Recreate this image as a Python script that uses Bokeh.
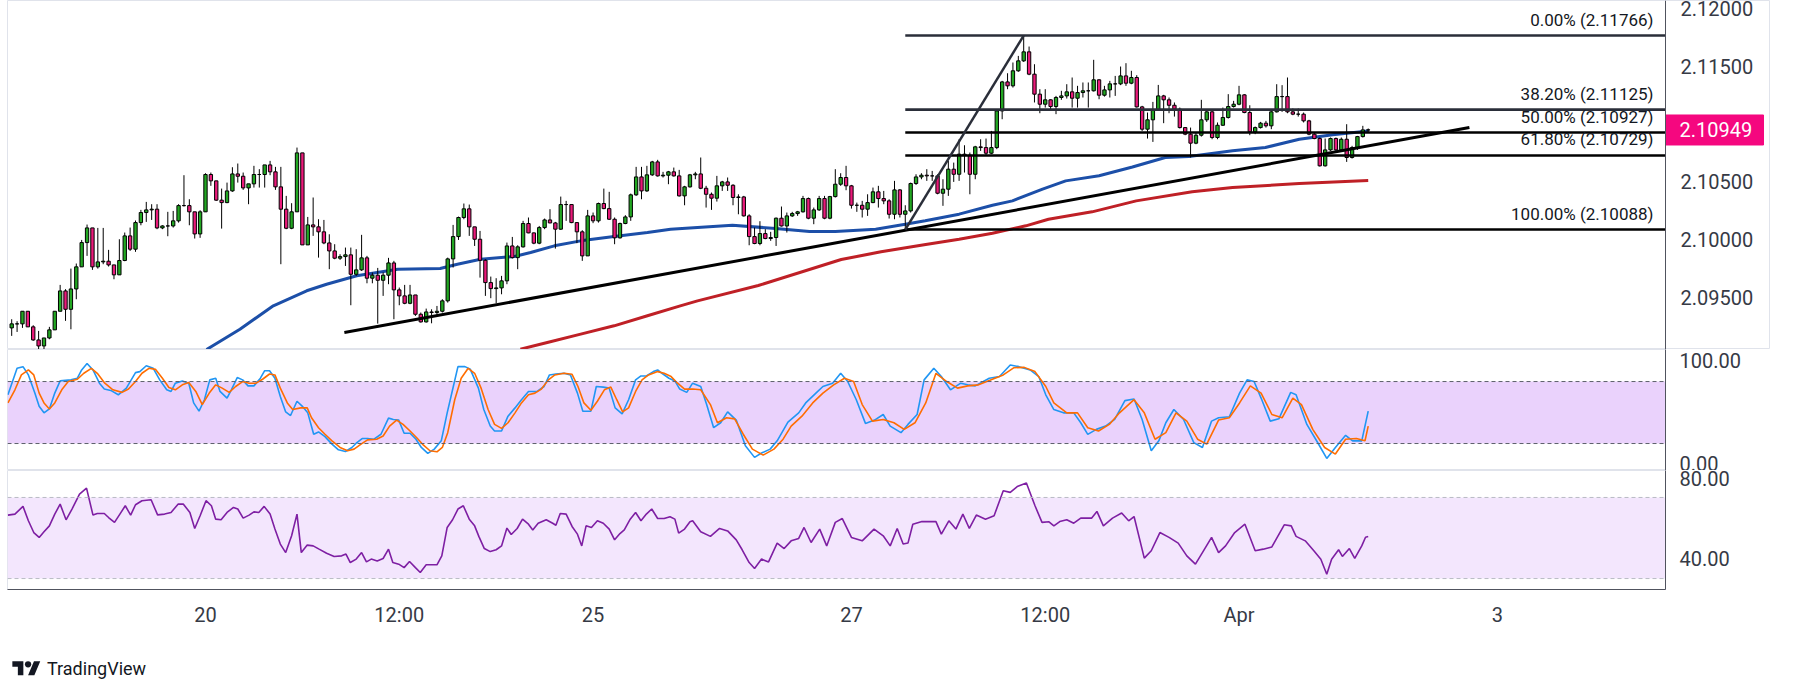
from bokeh.plotting import figure
from bokeh.layouts import column
from bokeh.models import (Range1d, FixedTicker, NumeralTickFormatter, Span,
                          BoxAnnotation, ColumnDataSource, Div)
from bokeh.embed import file_html
from bokeh.resources import INLINE
from bokeh.core.properties import value

# ---------------- data (hourly candles, index 0..252) ----------------
first_open = 2.09237
close = [
    2.09272, 2.09272, 2.09381, 2.09246, 2.09133, 2.09081, 2.09150, 2.09220, 2.09381, 2.09557,
    2.09398, 2.09574, 2.09765, 2.09975, 2.10102, 2.09765, 2.09808, 2.09814, 2.09782, 2.09696,
    2.09820, 2.10033, 2.09918, 2.10148, 2.10235, 2.10258, 2.10264, 2.10102, 2.10119, 2.10119,
    2.10163, 2.10295, 2.10295, 2.10241, 2.10050, 2.10241, 2.10564, 2.10509, 2.10342, 2.10321,
    2.10422, 2.10569, 2.10549, 2.10448, 2.10483, 2.10564, 2.10564, 2.10647, 2.10587, 2.10457,
    2.10264, 2.10099, 2.10241, 2.10751, 2.09955, 2.10128, 2.10111, 2.10068, 2.09972, 2.09903,
    2.09840, 2.09854, 2.09869, 2.09701, 2.09739, 2.09843, 2.09667, 2.09693, 2.09649, 2.09693,
    2.09799, 2.09566, 2.09514, 2.09450, 2.09522, 2.09355, 2.09289, 2.09375, 2.09370, 2.09381,
    2.09471, 2.09834, 2.10027, 2.10192, 2.10267, 2.10111, 2.10004, 2.09822, 2.09629, 2.09577,
    2.09583, 2.09644, 2.09946, 2.09845, 2.09938, 2.10140, 2.10059, 2.09970, 2.10105, 2.10171,
    2.10145, 2.10091, 2.10304, 2.10304, 2.10148, 2.10068, 2.09860, 2.10206, 2.10163, 2.10313,
    2.10269, 2.10177, 2.10016, 2.10140, 2.10197, 2.10388, 2.10543, 2.10422, 2.10561, 2.10673,
    2.10552, 2.10558, 2.10587, 2.10552, 2.10379, 2.10457, 2.10561, 2.10569, 2.10445, 2.10393,
    2.10359, 2.10466, 2.10500, 2.10471, 2.10365, 2.10370, 2.10206, 2.10027, 2.09967, 2.10053,
    2.10010, 2.10019, 2.10186, 2.10119, 2.10206, 2.10226, 2.10241, 2.10356, 2.10186, 2.10258,
    2.10356, 2.10186, 2.10373, 2.10480, 2.10538, 2.10466, 2.10298, 2.10298, 2.10264, 2.10321,
    2.10414, 2.10356, 2.10336, 2.10220, 2.10431, 2.10220, 2.10249, 2.10486, 2.10543, 2.10558,
    2.10552, 2.10552, 2.10402, 2.10437, 2.10610, 2.10566, 2.10740, 2.10731, 2.10566, 2.10803,
    2.10797, 2.10748, 2.10797, 2.11114, 2.11365, 2.11331, 2.11461, 2.11547, 2.11625, 2.11432,
    2.11259, 2.11172, 2.11210, 2.11152, 2.11230, 2.11244, 2.11279, 2.11224, 2.11273, 2.11288,
    2.11288, 2.11383, 2.11250, 2.11296, 2.11348, 2.11348, 2.11417, 2.11354, 2.11403, 2.11149,
    2.10956, 2.11037, 2.11120, 2.11244, 2.11210, 2.11163, 2.11129, 2.10970, 2.10913, 2.10835,
    2.10904, 2.11037, 2.11106, 2.10884, 2.10990, 2.11057, 2.11152, 2.11172, 2.11253, 2.11100,
    2.10933, 2.10970, 2.11008, 2.10985, 2.11106, 2.11238, 2.11238, 2.11106, 2.11086, 2.11086,
    2.11028, 2.10913, 2.10875, 2.10639, 2.10777, 2.10875, 2.10777, 2.10869, 2.10711, 2.10797,
    2.10892, 2.10950, 2.10949,
]
high = [
    2.09312, 2.09295, 2.09381, 2.09381, 2.09260, 2.09211, 2.09150, 2.09246, 2.09381, 2.09609,
    2.09572, 2.09750, 2.09794, 2.09998, 2.10131, 2.10102, 2.10102, 2.10102, 2.09912, 2.09782,
    2.10004, 2.10062, 2.10105, 2.10166, 2.10258, 2.10327, 2.10307, 2.10307, 2.10125, 2.10241,
    2.10249, 2.10307, 2.10558, 2.10350, 2.10241, 2.10255, 2.10575, 2.10581, 2.10509, 2.10442,
    2.10494, 2.10627, 2.10659, 2.10581, 2.10483, 2.10639, 2.10610, 2.10647, 2.10682, 2.10630,
    2.10630, 2.10379, 2.10316, 2.10797, 2.10751, 2.10197, 2.10365, 2.10177, 2.10171, 2.10047,
    2.09961, 2.09874, 2.09932, 2.09932, 2.09918, 2.10042, 2.09860, 2.09716, 2.09756, 2.09716,
    2.09843, 2.09817, 2.09586, 2.09609, 2.09609, 2.09522, 2.09370, 2.09404, 2.09398, 2.09427,
    2.09485, 2.09845, 2.10128, 2.10200, 2.10313, 2.10304, 2.10111, 2.10076, 2.09831, 2.09681,
    2.09667, 2.09687, 2.09975, 2.10024, 2.09952, 2.10163, 2.10192, 2.10062, 2.10119, 2.10183,
    2.10264, 2.10154, 2.10373, 2.10336, 2.10304, 2.10148, 2.10082, 2.10258, 2.10235, 2.10321,
    2.10442, 2.10414, 2.10192, 2.10148, 2.10212, 2.10399, 2.10630, 2.10630, 2.10639, 2.10682,
    2.10691, 2.10587, 2.10595, 2.10624, 2.10604, 2.10466, 2.10569, 2.10587, 2.10711, 2.10466,
    2.10408, 2.10552, 2.10509, 2.10538, 2.10480, 2.10393, 2.10379, 2.10220, 2.10105, 2.10160,
    2.10091, 2.10068, 2.10192, 2.10287, 2.10235, 2.10241, 2.10249, 2.10379, 2.10365, 2.10278,
    2.10379, 2.10379, 2.10379, 2.10610, 2.10575, 2.10639, 2.10474, 2.10321, 2.10336, 2.10393,
    2.10451, 2.10466, 2.10422, 2.10350, 2.10509, 2.10437, 2.10298, 2.10494, 2.10566, 2.10575,
    2.10610, 2.10595, 2.10566, 2.10523, 2.10682, 2.10667, 2.10869, 2.10817, 2.10754, 2.10812,
    2.10869, 2.10875, 2.10941, 2.11129, 2.11374, 2.11440, 2.11533, 2.11590, 2.11766, 2.11671,
    2.11518, 2.11302, 2.11302, 2.11215, 2.11244, 2.11288, 2.11345, 2.11403, 2.11331, 2.11360,
    2.11360, 2.11556, 2.11388, 2.11331, 2.11374, 2.11417, 2.11498, 2.11527, 2.11461, 2.11423,
    2.11158, 2.11100, 2.11192, 2.11339, 2.11253, 2.11230, 2.11187, 2.11143, 2.10970, 2.10970,
    2.10927, 2.11210, 2.11114, 2.11114, 2.11014, 2.11143, 2.11259, 2.11201, 2.11331, 2.11259,
    2.11163, 2.10979, 2.11019, 2.11028, 2.11114, 2.11345, 2.11337, 2.11403, 2.11135, 2.11135,
    2.11100, 2.11037, 2.10927, 2.10884, 2.10875, 2.10884, 2.10884, 2.10884, 2.10999, 2.10812,
    2.10898, 2.10985, 2.10962,
]
low = [
    2.09168, 2.09202, 2.09237, 2.09246, 2.09125, 2.09052, 2.09052, 2.09139, 2.09220, 2.09381,
    2.09298, 2.09225, 2.09485, 2.09765, 2.09860, 2.09739, 2.09750, 2.09788, 2.09768, 2.09658,
    2.09696, 2.09814, 2.09903, 2.09895, 2.10125, 2.10154, 2.10171, 2.10091, 2.10091, 2.10030,
    2.10105, 2.10148, 2.10287, 2.10125, 2.10010, 2.10016, 2.10241, 2.10466, 2.10336, 2.10096,
    2.10316, 2.10414, 2.10494, 2.10431, 2.10307, 2.10451, 2.10451, 2.10451, 2.10558, 2.10431,
    2.09788, 2.10091, 2.10091, 2.10241, 2.09955, 2.09955, 2.10033, 2.09845, 2.09961, 2.09745,
    2.09831, 2.09825, 2.09773, 2.09433, 2.09687, 2.09730, 2.09623, 2.09623, 2.09274, 2.09514,
    2.09615, 2.09312, 2.09433, 2.09442, 2.09442, 2.09341, 2.09283, 2.09283, 2.09277, 2.09341,
    2.09370, 2.09456, 2.09759, 2.09998, 2.10177, 2.10033, 2.09946, 2.09672, 2.09514, 2.09494,
    2.09450, 2.09528, 2.09615, 2.09837, 2.09745, 2.09932, 2.10056, 2.09961, 2.09961, 2.10091,
    2.10143, 2.09923, 2.10085, 2.10163, 2.10143, 2.09970, 2.09817, 2.09860, 2.10143, 2.10148,
    2.10264, 2.10171, 2.09961, 2.10010, 2.10134, 2.10163, 2.10379, 2.10350, 2.10414, 2.10552,
    2.10546, 2.10538, 2.10480, 2.10546, 2.10373, 2.10298, 2.10451, 2.10523, 2.10437, 2.10278,
    2.10258, 2.10330, 2.10422, 2.10422, 2.10298, 2.10220, 2.10200, 2.09952, 2.09961, 2.09952,
    2.10004, 2.09990, 2.09946, 2.10114, 2.10062, 2.10197, 2.10206, 2.10235, 2.10177, 2.10134,
    2.10249, 2.10177, 2.10177, 2.10365, 2.10466, 2.10428, 2.10269, 2.10241, 2.10192, 2.10206,
    2.10316, 2.10278, 2.10307, 2.10183, 2.10177, 2.10192, 2.10088, 2.10235, 2.10474, 2.10523,
    2.10509, 2.10509, 2.10393, 2.10293, 2.10379, 2.10500, 2.10509, 2.10581, 2.10393, 2.10523,
    2.10768, 2.10725, 2.10740, 2.10783, 2.11042, 2.11302, 2.11316, 2.11452, 2.11538, 2.11423,
    2.11187, 2.11094, 2.11143, 2.11114, 2.11086, 2.11210, 2.11221, 2.11143, 2.11143, 2.11230,
    2.11143, 2.11282, 2.11215, 2.11238, 2.11230, 2.11244, 2.11337, 2.11331, 2.11345, 2.11143,
    2.10941, 2.10875, 2.10846, 2.11114, 2.11008, 2.11094, 2.11065, 2.10962, 2.10904, 2.10711,
    2.10826, 2.10892, 2.11019, 2.10869, 2.10869, 2.10985, 2.11048, 2.11143, 2.11163, 2.11094,
    2.10904, 2.10913, 2.10962, 2.10970, 2.10956, 2.11100, 2.11106, 2.11094, 2.11077, 2.11065,
    2.11014, 2.10904, 2.10869, 2.10633, 2.10633, 2.10768, 2.10768, 2.10768, 2.10673, 2.10702,
    2.10777, 2.10884, 2.10927,
]

# moving averages (at sample bars)
ema_blue_x = [36.2, 42.4, 48.6, 54.8, 58.5, 64.1, 71.7, 79.6, 82.8, 87.1, 93.4, 96.4, 100.8,
              105.7, 111.9, 118.1, 122.4, 127.4, 133.9, 141.9, 148.2, 153.0, 160.5, 166.0,
              169.7, 176.0, 182.2, 185.9, 191.5, 195.8, 202.0, 208.2, 214.3, 218.7, 226.8,
              232.9, 239.2, 245.4, 252.0]
ema_blue_y = [2.09050, 2.09226, 2.09428, 2.09558, 2.09615, 2.09688, 2.09745, 2.09751, 2.09788,
              2.09831, 2.09855, 2.09889, 2.09947, 2.09990, 2.10028, 2.10062, 2.10091, 2.10106,
              2.10125, 2.10097, 2.10071, 2.10071, 2.10091, 2.10134, 2.10164, 2.10221, 2.10298,
              2.10336, 2.10437, 2.10509, 2.10553, 2.10629, 2.10711, 2.10720, 2.10769, 2.10798,
              2.10869, 2.10907, 2.10940]
ema_red_x = [94.5, 99.5, 105.7, 111.9, 118.1, 124.2, 127.4, 138.7, 154.1, 161.5, 169.8, 176.0,
             182.2, 188.4, 192.6, 200.7, 208.9, 219.3, 226.8, 239.2, 252.0]
ema_red_y = [2.09053, 2.09111, 2.09183, 2.09255, 2.09342, 2.09428, 2.09471, 2.09604, 2.09829,
             2.09895, 2.09959, 2.10004, 2.10056, 2.10120, 2.10177, 2.10241, 2.10336, 2.10414,
             2.10452, 2.10486, 2.10512]

# drawings
trend_x = [61.8, 270.8]
trend_y = [2.09198, 2.10971]
fib_levels = [2.11766, 2.11125, 2.10927, 2.10729, 2.10088]
fib_pct = ["0.00%", "38.20%", "50.00%", "61.80%", "100.00%"]
fib_colors = ["#2a2e39", "#2a2e39", "#000000", "#000000", "#000000"]
fib_start = 166
fib_end = 188

# stochastic %K / %D
stoch_k_x = [-0.7, 1.0, 2.1, 3.1, 4.3, 5.1, 6.0, 7.0, 8.0, 9.0,
             11.0, 12.2, 13.0, 14.0, 15.1, 16.3, 17.2, 18.4, 19.8, 21.3,
             23.0, 23.8, 25.0, 26.3, 27.5, 28.8, 29.6, 30.4, 31.7, 32.9,
             33.8, 34.8, 35.8, 36.8, 37.9, 38.7, 40.0, 40.8, 41.9, 42.9,
             43.9, 45.0, 46.2, 47.0, 47.9, 48.9, 49.9, 50.9, 51.8, 53.0,
             54.1, 55.0, 56.1, 57.0, 58.2, 59.5, 60.7, 62.0, 63.2, 64.0,
             65.1, 66.1, 67.3, 68.6, 70.0, 70.9, 71.9, 72.9, 74.0, 75.1,
             76.1, 77.3, 78.5, 79.8, 80.9, 81.9, 82.9, 84.2, 85.2, 86.7,
             87.7, 88.9, 89.7, 91.0, 92.2, 93.5, 94.7, 96.0, 97.6, 98.9,
             99.9, 101.1, 102.6, 103.8, 105.1, 106.1, 107.6, 108.6, 109.9, 111.0,
             112.1, 113.4, 114.6, 115.9, 116.9, 117.9, 119.2, 120.0, 120.8, 122.1,
             123.2, 124.1, 125.4, 126.5, 128.0, 129.1, 130.4, 131.7, 133.0, 134.6,
             136.3, 138.0, 139.3, 140.9, 142.2, 144.2, 146.2, 147.5, 149.4, 150.7,
             152.5, 154.0, 155.3, 156.9, 158.6, 160.3, 161.9, 163.2, 165.2, 166.5,
             168.2, 169.5, 171.3, 172.7, 174.4, 176.3, 177.6, 179.0, 180.5, 181.6,
             183.5, 185.5, 187.1, 189.2, 190.8, 192.1, 193.6, 195.4, 197.3, 198.6,
             199.9, 201.5, 203.2, 204.9, 206.8, 208.5, 210.0, 211.7, 213.1, 214.4,
             215.9, 217.7, 219.6, 221.2, 222.9, 224.2, 226.2, 228.1, 229.5, 230.8,
             232.1, 233.8, 235.4, 237.6, 238.6, 240.6, 242.6, 244.3, 245.9, 247.8,
             249.1, 250.8, 252.0]
stoch_k = [67.2, 92.8, 94.4, 86.4, 68.8, 56.1, 49.7, 53.5, 68.8, 80.6,
           81.6, 83.2, 91.2, 97.5, 91.2, 78.4, 72.7, 71.4, 67.2, 73.6,
           88.6, 89.6, 95.3, 92.8, 81.6, 72.0, 70.4, 78.4, 80.6, 78.4,
           59.3, 51.3, 62.4, 81.6, 83.2, 70.4, 64.0, 72.0, 83.8, 81.6,
           75.8, 75.8, 83.2, 90.5, 90.5, 83.2, 65.6, 50.6, 47.1, 60.9,
           55.4, 49.7, 29.0, 31.2, 26.7, 19.4, 13.9, 12.3, 16.2, 20.3,
           24.8, 24.8, 24.2, 29.0, 44.6, 43.3, 42.7, 29.9, 29.9, 24.2,
           16.2, 10.4, 14.6, 22.6, 49.7, 72.0, 94.4, 94.4, 91.8, 73.6,
           52.9, 36.9, 32.1, 32.1, 46.5, 54.5, 62.4, 70.4, 70.4, 75.2,
           86.4, 87.3, 88.0, 86.4, 68.8, 51.3, 51.3, 75.2, 74.6, 73.6,
           54.5, 48.7, 62.4, 81.6, 85.4, 85.4, 89.6, 91.2, 88.0, 83.2,
           80.6, 72.7, 69.5, 78.4, 75.2, 57.7, 35.3, 40.1, 50.6, 42.7,
           17.8, 6.6, 10.8, 14.6, 22.6, 40.8, 49.7, 59.3, 68.8, 75.2,
           78.4, 88.0, 80.0, 62.4, 39.5, 42.7, 48.1, 36.9, 30.5, 38.5,
           48.1, 81.6, 92.8, 84.8, 72.0, 78.4, 76.8, 75.8, 80.0, 83.2,
           84.8, 96.0, 94.4, 91.2, 84.8, 67.2, 52.9, 49.7, 49.7, 40.1,
           28.9, 33.7, 36.9, 43.3, 61.5, 63.1, 43.3, 13.0, 22.6, 40.1,
           52.9, 43.3, 20.9, 16.2, 41.7, 44.9, 45.9, 68.8, 81.6, 80.0,
           64.0, 41.7, 43.9, 69.5, 67.2, 38.5, 21.0, 5.6, 16.2, 28.0,
           22.6, 22.6, 51.3]
stoch_d_x = [-0.7, 0.6, 1.8, 3.1, 4.1, 5.1, 6.0, 7.0, 8.0, 9.3,
             10.5, 12.2, 13.4, 14.8, 15.9, 17.3, 18.8, 20.5, 21.7, 23.0,
             24.2, 25.5, 26.7, 28.0, 29.2, 30.4, 31.7, 32.9, 34.2, 35.4,
             36.7, 37.9, 39.1, 40.4, 41.6, 42.9, 44.1, 45.4, 46.6, 47.9,
             48.9, 49.9, 51.2, 52.2, 53.7, 54.9, 55.7, 57.0, 58.2, 59.5,
             61.0, 62.4, 63.6, 64.9, 66.1, 67.8, 69.0, 70.2, 71.5, 72.7,
             74.0, 75.2, 76.5, 77.7, 79.0, 80.0, 81.0, 82.3, 83.5, 84.8,
             86.0, 87.2, 88.5, 89.7, 91.0, 92.2, 93.5, 94.7, 96.0, 97.2,
             98.4, 99.7, 100.9, 102.6, 104.1, 105.2, 106.3, 107.6, 108.8, 110.1,
             111.3, 112.4, 113.5, 114.6, 115.9, 117.1, 118.3, 120.0, 121.2, 122.5,
             123.7, 125.0,
             126.5, 128.0, 129.8, 131.1, 132.8, 134.3, 135.9, 137.6, 139.6, 141.6,
             143.3, 144.8, 146.8, 148.8, 150.7, 152.7, 154.7, 156.4, 158.0, 159.9,
             161.9, 163.9, 165.8, 167.8, 169.8, 171.7, 173.7, 175.7, 177.6, 179.6,
             181.6, 184.2, 186.2, 188.1, 190.1, 192.1, 193.6, 196.0, 198.0, 199.9,
             201.9, 203.9, 205.8, 208.5, 210.4, 212.4, 214.4, 216.3, 218.3, 220.3,
             222.0, 224.2, 226.2, 228.1, 230.1, 232.1, 234.1, 236.0, 238.0, 239.6,
             241.7, 243.9, 245.9, 247.8, 249.8, 251.4, 252.0]
stoch_d = [59.3, 72.0, 86.4, 91.2, 86.4, 68.8, 59.3, 53.5, 59.3, 72.0,
           80.0, 82.2, 88.0, 92.8, 88.0, 78.4, 72.0, 69.5, 72.7, 80.0,
           88.0, 92.8, 91.8, 83.2, 74.3, 72.0, 76.8, 79.0, 70.4, 57.7,
           68.8, 76.8, 73.6, 69.5, 75.2, 80.0, 78.4, 78.4, 82.2, 87.3,
           86.4, 73.6, 59.3, 52.9, 54.5, 54.5, 44.9, 35.3, 29.0, 22.6,
           16.2, 13.0, 14.6, 19.4, 23.5, 24.2, 27.3, 36.9, 42.7, 38.5,
           32.1, 25.8, 18.4, 13.0, 12.0, 16.2, 30.5, 62.4, 83.2, 92.8,
           88.0, 73.6, 52.9, 38.5, 34.7, 40.1, 49.7, 59.3, 67.2, 68.8,
           72.7, 81.6, 86.4, 88.0, 87.0, 75.2, 59.3, 52.2, 60.9, 72.0,
           74.6, 62.4, 50.6, 54.5, 70.4, 81.6, 86.4, 89.6, 88.0, 84.8,
           78.4, 72.7,
           72.7, 72.0, 57.7, 40.1, 44.9, 43.9, 29.0, 14.6, 8.8, 14.6,
           24.2, 36.9, 46.5, 59.3, 68.8, 76.8, 83.2, 80.0, 57.7, 41.7,
           43.3, 40.1, 33.7, 40.1, 59.3, 88.0, 80.0, 73.6, 75.8, 76.8,
           80.9, 86.4, 93.4, 93.7, 89.6, 75.2, 59.3, 49.7, 49.7, 35.3,
           32.1, 38.5, 49.7, 62.4, 49.7, 24.2, 30.5, 49.7, 41.7, 24.2,
           19.4, 42.7, 44.9, 59.3, 75.8, 68.8, 48.1, 44.9, 64.0, 57.7,
           33.7, 16.2, 9.8, 24.2, 24.8, 22.6, 36.9]

# RSI
rsi_x = [-0.7, 0.6, 2.1, 3.1, 4.1, 5.1, 6.0, 7.0, 8.0, 9.0,
         10.1, 11.2, 12.6, 13.9, 15.1, 15.9, 17.2, 18.0, 19.1, 20.1,
         21.1, 22.1, 23.0, 24.2, 25.9, 27.1, 28.4, 29.6, 30.9, 31.9,
         33.1, 34.0, 35.0, 36.1, 37.1, 37.9, 38.9, 40.0, 41.2, 42.0,
         43.0, 44.1, 45.0, 45.9, 46.9, 48.0, 48.9, 49.9, 50.9, 52.0,
         53.0, 53.8, 54.9, 56.0, 57.1, 58.5, 59.9, 61.3, 62.1, 62.9,
         64.0, 65.0, 65.9, 66.8, 67.9, 69.0, 70.0, 70.8, 71.9, 72.9,
         73.9, 75.0, 75.9, 77.0, 79.0, 79.9, 80.9, 81.9, 82.9, 83.9,
         85.0, 86.0, 86.8, 87.8, 88.9, 90.0, 91.0, 92.0, 92.8, 93.9,
         94.9, 96.0, 96.8, 97.8, 99.3, 100.5, 101.1, 101.9, 103.0, 104.1,
         105.1, 105.9, 106.7, 107.7, 108.8, 109.9, 111.0, 112.0, 113.0, 113.8,
         114.9, 115.9, 116.9, 117.9, 118.9, 120.0, 121.2, 122.3, 123.2, 123.9,
         125.0, 126.0,
         126.5, 128.0, 129.8, 131.5, 133.0, 134.6, 135.7, 137.0, 138.0, 139.3,
         140.6, 142.2, 143.5, 144.8, 146.2, 147.2, 148.5, 150.1, 151.4, 153.0,
         154.3, 156.0, 158.0, 160.2, 161.9, 163.2, 164.5, 165.6, 166.5, 167.4,
         169.1, 171.7, 172.7, 174.1, 175.4, 176.7, 177.9, 179.2, 180.9, 182.5,
         184.2, 185.5, 186.8, 188.5, 190.1, 191.4, 192.7, 193.6, 194.7, 196.0,
         197.3, 198.6, 200.6, 201.6, 202.8, 204.5, 206.2, 207.5, 208.5, 210.4,
         211.7, 213.3, 215.0, 216.7, 218.3, 219.9, 221.2, 222.9, 224.2, 225.5,
         227.2, 229.1, 231.0, 232.5, 234.1, 236.4, 237.7, 238.6, 240.3, 241.9,
         243.2, 244.3, 245.2, 246.5, 247.2, 248.5, 249.5, 250.8, 251.5, 252.0]
rsi = [61.3, 61.8, 65.6, 58.5, 52.7, 50.3, 53.1, 56.0, 61.8, 66.7,
       59.0, 64.3, 71.7, 74.6, 61.3, 62.1, 62.1, 60.1, 57.7, 61.8,
       65.9, 61.3, 66.4, 68.4, 68.9, 61.4, 61.8, 62.6, 66.7, 66.7,
       62.6, 54.7, 61.0, 68.4, 65.9, 59.3, 59.0, 62.6, 65.1, 64.3,
       59.8, 61.3, 62.9, 62.6, 65.6, 61.8, 54.4, 47.0, 42.8, 51.1,
       61.8, 42.8, 46.5, 46.1, 44.5, 42.5, 40.9, 41.2, 42.1, 37.9,
       39.6, 42.8, 38.2, 39.6, 38.7, 39.9, 44.5, 37.9, 37.1, 35.4,
       38.4, 35.4, 33.0, 36.8, 36.8, 41.2, 55.2, 59.0, 64.3, 65.9,
       59.3, 56.0, 50.7, 44.8, 43.3, 44.2, 46.1, 54.9, 51.7, 54.7,
       59.3, 56.8, 54.0, 57.3, 59.0, 57.3, 56.3, 62.1, 61.8, 55.7,
       51.9, 46.1, 56.0, 55.2, 58.5, 57.3, 54.4, 49.1, 52.2, 54.0,
       59.3, 62.6, 58.5, 61.8, 64.3, 59.6, 59.6, 60.5, 59.3, 52.4,
       54.4, 58.0,
       58.5, 53.1, 50.8, 54.7, 53.5, 49.1, 44.2, 37.9, 35.0, 39.6,
       38.2, 47.5, 44.8, 48.6, 49.8, 55.2, 47.8, 54.4, 46.1, 57.7,
       59.6, 50.3, 48.6, 54.4, 51.1, 46.1, 54.7, 47.0, 47.5, 56.8,
       58.1, 58.1, 51.9, 58.5, 54.4, 61.8, 54.7, 61.3, 59.3, 61.0,
       73.3, 72.5, 75.4, 77.1, 65.9, 57.7, 58.0, 56.0, 58.1, 59.0,
       57.3, 59.8, 59.8, 63.1, 56.0, 59.8, 62.3, 58.5, 60.6, 40.1,
       43.7, 52.7, 50.3, 47.5, 41.2, 37.1, 42.8, 50.3, 42.8, 46.1,
       52.7, 56.8, 43.7, 44.5, 45.6, 56.5, 56.0, 50.8, 48.6, 43.7,
       39.5, 32.1, 39.5, 44.2, 40.9, 44.8, 39.9, 46.1, 50.4, 50.7]

# time axis (bar index -> label)
time_ticks = [36, 72, 108, 156, 192, 228, 276]
time_labels = ["20", "12:00", "25", "27", "12:00", "Apr", "3"]
price_ticks = [2.095, 2.100, 2.105, 2.115, 2.120]
stoch_ticks = [0, 100]
rsi_ticks = [40, 80]

# ---------------- styling / geometry ----------------
FONT = "Roboto"
AXIS_TXT = "#363a45"
SEP = "#e0e3eb"
DARK = "#50535e"
GREEN = "#22a722"
PINK = "#ea1a7a"
TAG = "#f5077f"
W = 1770
BAR_PX = 5.383                      # pixels per bar
X0 = -0.78                          # bar index at the left frame edge
SCALE_X = X0 + 1658 / BAR_PX        # bar index where the price scale begins
FULL_X = X0 + 1762 / BAR_PX         # bar index at the right chart border
PRICE_LO, PRICE_HI = 2.090502, 2.120692

xr = Range1d(X0, SCALE_X)


def style_axis(ax, standoff):
    ax.major_tick_line_color = None
    ax.minor_tick_line_color = None
    ax.major_tick_out = 0
    ax.major_tick_in = 0
    ax.major_label_text_font = FONT
    ax.major_label_text_font_size = "20px"
    ax.major_label_text_color = AXIS_TXT
    ax.major_label_standoff = standoff


def make_fig(height, yr, ticks, fmt, bottom=0, xaxis=False):
    f = figure(width=W, height=height, x_range=xr, y_range=yr,
               output_backend="svg", toolbar_location=None,
               y_axis_location="right",
               x_axis_location="below" if xaxis else None,
               min_border_left=7, min_border_right=105,
               min_border_top=0, min_border_bottom=bottom)
    f.grid.visible = False
    f.outline_line_color = SEP
    f.background_fill_color = "white"
    f.border_fill_color = "white"
    ax = f.yaxis[0]
    ax.ticker = FixedTicker(ticks=ticks)
    ax.formatter = NumeralTickFormatter(format=fmt)
    ax.axis_line_color = DARK
    style_axis(ax, 14)
    return f


# ---------------- price pane (its frame also holds the price scale) ----------------
p = figure(width=W, height=349, x_range=Range1d(X0, FULL_X),
           y_range=Range1d(PRICE_LO, PRICE_HI),
           output_backend="svg", toolbar_location=None,
           y_axis_location=None, x_axis_location=None,
           min_border_left=7, min_border_right=1,
           min_border_top=0, min_border_bottom=0)
try:
    p.frame_align = False          # do not line this frame up with the panes below
except Exception:
    pass
p.grid.visible = False
p.outline_line_color = SEP
p.background_fill_color = "white"
p.border_fill_color = "white"

# separator between plot area and price scale
p.add_layout(Span(location=SCALE_X, dimension="height", line_color=DARK, line_width=1))

open_ = [first_open] + close[:-1]
n = len(close)
src = ColumnDataSource(dict(
    x=list(range(n)),
    high=high, low=low,
    top=[max(o, c) for o, c in zip(open_, close)],
    bottom=[min(o, c) for o, c in zip(open_, close)],
    color=[GREEN if c >= o else PINK for o, c in zip(open_, close)],
))

p.line(ema_blue_x, ema_blue_y, line_color="#1c4fa8", line_width=3)
p.line(ema_red_x, ema_red_y, line_color="#bf2026", line_width=3)

p.segment(x0="x", x1="x", y0="low", y1="high", source=src,
          line_color="#000000", line_width=1)
p.vbar(x="x", width=0.62, top="top", bottom="bottom", source=src,
       fill_color="color", line_color="#000000", line_width=1)

# trend line
p.line(trend_x, trend_y, line_color="#000000", line_width=3)

# fib retracement
for lvl, col in zip(fib_levels, fib_colors):
    p.segment(x0=[fib_start], x1=[SCALE_X], y0=[lvl], y1=[lvl],
              line_color=col, line_width=2.6)
p.line([fib_start, fib_end], [fib_levels[-1], fib_levels[0]],
       line_color="#2a2e39", line_width=2.5)
fib_text = [f"{pc} ({lv:.5f})" for pc, lv in zip(fib_pct, fib_levels)]
p.text(x=[SCALE_X - 12 / BAR_PX] * len(fib_levels), y=fib_levels, text=fib_text,
       text_align="right", text_baseline="bottom", y_offset=-6,
       text_font=value(FONT), text_font_size="17px", text_color="#131722")

# price scale labels, placed through the price scale
p.text(x=[SCALE_X + 15 / BAR_PX] * len(price_ticks), y=price_ticks,
       text=[f"{t:.5f}" for t in price_ticks],
       text_align="left", text_baseline="middle",
       text_font=value(FONT), text_font_size="20px", text_color=AXIS_TXT)

# last price tag on the price scale
last = close[-1]
half_h = 15 * (PRICE_HI - PRICE_LO) / 349
p.quad(left=[SCALE_X], right=[SCALE_X + 98 / BAR_PX],
       bottom=[last - half_h], top=[last + half_h],
       fill_color=TAG, line_color=TAG)
p.text(x=[SCALE_X + 14 / BAR_PX], y=[last], text=[f"{last:.5f}"],
       text_align="left", text_baseline="middle",
       text_font=value(FONT), text_font_size="20px", text_color="white")

# ---------------- stochastic pane ----------------
s = make_fig(121, Range1d(-6.1, 111.0), stoch_ticks, "0.00")
s.add_layout(BoxAnnotation(bottom=20, top=80, fill_color="#ead2fc", fill_alpha=1.0,
                           line_alpha=0, level="underlay"))
for lv in (20, 80):
    s.add_layout(Span(location=lv, dimension="width", line_color="#5d606b",
                      line_dash="4 3", line_width=1))
s.line(stoch_k_x, stoch_k, line_color="#2196f3", line_width=1.6)
s.line(stoch_d_x, stoch_d, line_color="#ff6d00", line_width=1.6)

# ---------------- RSI pane + time axis ----------------
r = make_fig(166, Range1d(24.6, 83.3), rsi_ticks, "0.00", bottom=47, xaxis=True)
r.add_layout(BoxAnnotation(bottom=30, top=70, fill_color="#f3e6fd", fill_alpha=1.0,
                           line_alpha=0, level="underlay"))
for lv in (30, 70):
    r.add_layout(Span(location=lv, dimension="width", line_color="#b8bbc4",
                      line_dash="4 3", line_width=1))
r.line(rsi_x, rsi, line_color="#7e1fa3", line_width=1.6)

xa = r.xaxis[0]
xa.ticker = FixedTicker(ticks=time_ticks)
xa.major_label_overrides = {t: lab for t, lab in zip(time_ticks, time_labels)}
xa.axis_line_color = DARK
style_axis(xa, 13)

logo = Div(
    text=('<div style="display:flex;align-items:center;gap:6px;padding:15px 0 0 7px;'
          'font-family:Roboto;font-size:18px;color:#131722;">'
          '<svg width="29" height="22" viewBox="0 0 36 28">'
          '<path d="M14 22H7V11H0V4h14v18zM28 22h-8l7.5-18h8L28 22z" fill="#131722"/>'
          '<circle cx="20" cy="8" r="4" fill="#131722"/></svg>'
          '<span>TradingView</span></div>'),
    width=300, height=38)

layout = column(p, s, r, logo, spacing=0)
open("out.html", "w").write(file_html(layout, INLINE))
